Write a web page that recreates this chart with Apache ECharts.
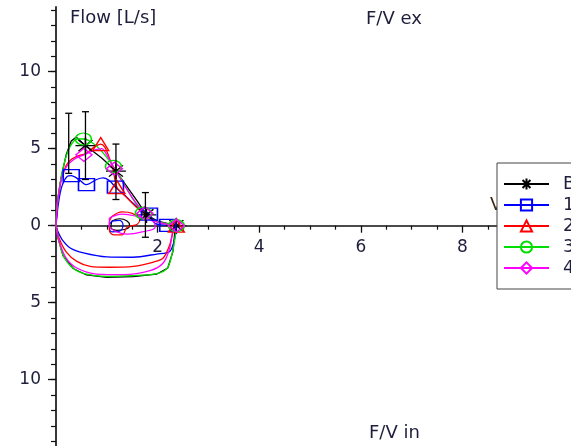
<!DOCTYPE html>
<html>
<head>
<meta charset="utf-8">
<script src="https://cdn.jsdelivr.net/npm/echarts@6/dist/echarts.min.js"></script>
<style>
  html, body { margin: 0; padding: 0; background: #ffffff; }
  #fvChart { width: 571px; height: 446px; }
</style>
</head>
<body>
<div id="fvChart"></div>
<script>
// legend names
const seriesNames = ["Baseline", "1", "2", "3", "4"];
// tick labels
const xTickLabels = [2, 4, 6, 8];
const yTickLabels = [-10, -5, 0, 5, 10];
const yMinorTicks = [-14, -13, -12, -11, -10, -9, -8, -7, -6, -5, -4, -3, -2, -1, 0,
  1, 2, 3, 4, 5, 6, 7, 8, 9, 10, 11, 12, 13, 14];

// flow-volume loops: [volume L, flow L/s]
const loopB = [[0, 0], [0.03, 1.5], [0.1, 3.1], [0.2, 4.6], [0.3, 5.5], [0.4, 5.75],
  [0.58, 5.2], [0.9, 4.4], [1.18, 3.55], [1.6, 1.6], [1.78, 0.7], [2.0, 0.3], [2.37, 0],
  [2.34, -0.4], [2.3, -1.7], [2.2, -2.75], [1.98, -3.15], [1.52, -3.3], [1.0, -3.35],
  [0.6, -3.2], [0.34, -2.78], [0.14, -1.95], [0.04, -0.8], [0, 0]];
const marksB = [6, 8, 10, 12];

const loop1 = [[0, 0], [0.05, 1.5], [0.12, 2.6], [0.22, 3.2], [0.3, 3.25], [0.45, 3.0],
  [0.6, 2.66], [0.8, 3.0], [0.93, 3.1], [1.06, 2.9], [1.17, 2.5], [1.35, 2.0], [1.5, 1.5],
  [1.65, 1.1], [1.84, 0.75], [1.95, 0.15], [2.2, 0.02], [2.37, 0], [2.34, -0.78],
  [2.24, -1.67], [1.98, -1.84], [1.52, -2.05], [1.0, -2.03], [0.54, -1.77], [0.28, -1.45],
  [0.12, -0.9], [0.04, -0.4], [0, 0]];
const marks1 = [4, 6, 10, 14, 16];

const loop2 = [[0, 0], [0.03, 1.5], [0.1, 3.0], [0.2, 3.9], [0.3, 4.3], [0.45, 4.55],
  [0.6, 4.7], [0.75, 5.1], [0.88, 5.3], [0.96, 5.1], [1.04, 4.5], [1.12, 3.7], [1.2, 2.5],
  [1.4, 1.8], [1.6, 1.15], [1.8, 0.55], [2.05, 0.18], [2.37, 0], [2.32, -0.25],
  [2.24, -1.23], [2.11, -2.1], [1.92, -2.36], [1.52, -2.64], [1.06, -2.7], [0.67, -2.64],
  [0.41, -2.32], [0.2, -1.7], [0.06, -0.8], [0, 0]];
const marks2 = [8, 12, 17];

const loop3 = [[0, 0], [0.013, 1.04], [0.08, 2.77], [0.18, 4.29], [0.28, 5.15], [0.41, 5.63],
  [0.54, 5.63], [0.67, 5.48], [0.87, 4.94], [1.13, 3.85], [1.33, 2.77], [1.52, 1.69],
  [1.72, 0.82], [1.92, 0.35], [2.18, 0.13], [2.37, 0], [2.36, -0.4], [2.3, -1.6],
  [2.2, -2.7], [2.0, -3.1], [1.5, -3.25], [1.0, -3.3], [0.6, -3.15], [0.35, -2.8],
  [0.15, -2.0], [0.05, -0.9], [0, 0]];
const marks3 = [6, 9, 12, 15];

const loop4 = [[0, 0], [0.03, 1.5], [0.1, 2.9], [0.2, 3.8], [0.35, 4.3], [0.55, 4.6],
  [0.75, 4.9], [0.9, 5.0], [1.0, 4.6], [1.15, 3.7], [1.35, 2.6], [1.55, 1.6], [1.75, 0.8],
  [1.95, 0.3], [2.2, 0.08], [2.37, 0], [2.3, -0.3], [2.24, -1.45], [2.11, -2.42],
  [1.85, -2.92], [1.33, -3.18], [0.8, -3.14], [0.41, -2.75], [0.2, -2.1], [0.06, -1.0], [0, 0]];
const marks4 = [5, 9, 12, 15];

// small tidal loops
const tidalB = [[1.1, 0.3], [1.25, 0.45], [1.4, 0.3], [1.45, 0.0], [1.35, -0.25], [1.2, -0.3],
  [1.08, -0.1], [1.1, 0.3]];
const tidal1 = [[1.1, 0.3], [1.25, 0.35], [1.32, 0.05], [1.25, -0.35], [1.1, -0.4], [1.05, 0],
  [1.1, 0.3]];
const tidal2 = [[1.1, 0.6], [1.3, 0.9], [1.5, 0.8], [1.65, 0.4], [1.6, 0.1], [1.4, -0.1],
  [1.3, -0.6], [1.15, -0.6], [1.05, -0.3], [1.05, 0.2], [1.1, 0.6]];
const tidal4 = [[1.05, 0.5], [1.3, 0.75], [1.6, 0.6], [1.9, 0.3], [1.95, -0.1], [1.7, -0.4],
  [1.4, -0.55], [1.2, -0.4], [1.05, 0.0], [1.05, 0.5]];

// baseline error bars: [volume, low, high]
const errB = [[0.25, 3.4, 7.3], [0.58, 3.0, 7.4], [1.18, 1.7, 5.3], [1.76, -0.75, 2.15]];

const txtColor = "#1e1e3c";
const fontFam = "DejaVu Sans";
const starPath = "path://M0,5L10,5M5,0L5,10M1.5,1.5L8.5,8.5M8.5,1.5L1.5,8.5";

function withMarks(pts, marks) {
  return pts.map(function (p, i) {
    return marks.indexOf(i) >= 0 ? p : { value: p, symbol: "none" };
  });
}

function loopSeries(name, color, symbol, size, pts, marks, smooth) {
  return {
    name: name,
    type: "line",
    data: withMarks(pts, marks),
    symbol: symbol,
    symbolSize: size,
    showAllSymbol: true,
    smooth: smooth,
    lineStyle: { color: color, width: 1.3 },
    itemStyle: { color: "rgba(255,255,255,0)", borderColor: color, borderWidth: 1.4 },
    emphasis: { disabled: true },
  };
}

function tidalSeries(name, color, pts) {
  return {
    name: name,
    type: "line",
    data: pts,
    symbol: "none",
    smooth: 0.4,
    lineStyle: { color: color, width: 1.2 },
    emphasis: { disabled: true },
  };
}

const titleStyle = { fontFamily: fontFam, fontSize: 18, fontWeight: "normal", color: txtColor };

let myChart = echarts.init(document.getElementById("fvChart"));
let options = {
  animation: false,
  title: [
    { text: "Flow [L/s]", left: 70, top: 9, padding: 0, textStyle: titleStyle },
    { text: "F/V ex", left: 366, top: 10, padding: 0, textStyle: titleStyle },
    { text: "F/V in", left: 369, top: 424, padding: 0, textStyle: titleStyle },
  ],
  graphic: [
    { type: "text", left: 490, top: 196, z: 0,
      style: { text: "Volume [L]", fontFamily: fontFam, fontSize: 18, fill: "#3a2a10" } },
  ],
  legend: {
    data: seriesNames,
    orient: "vertical",
    left: 497,
    top: 163,
    padding: [12, 6, 12, 6],
    itemWidth: 45,
    itemHeight: 14,
    itemGap: 3,
    backgroundColor: "#ffffff",
    borderColor: "#444444",
    borderWidth: 1,
    borderRadius: 0,
    z: 10,
    textStyle: { fontFamily: fontFam, fontSize: 18, color: txtColor, lineHeight: 14, padding: [0, 0, 0, 9] },
  },
  grid: { left: 56, top: 7, width: 508, height: 442, containLabel: false, outerBoundsMode: "none" },
  xAxis: [
    {
      type: "value",
      min: 0,
      max: 10,
      interval: 2,
      axisLine: { onZero: true, lineStyle: { color: "#111111", width: 1.5 } },
      axisTick: { length: 7, lineStyle: { color: "#111111", width: 1.3 } },
      minorTick: { show: true, splitNumber: 4, length: 4, lineStyle: { color: "#111111", width: 1.2 } },
      axisLabel: { show: false },
      splitLine: { show: false },
    },
    {
      // labels only, lifted from the grid bottom up to the zero line
      type: "value",
      min: 0,
      max: 10,
      position: "bottom",
      offset: -223.3,
      axisLine: { show: false, onZero: false },
      axisTick: { show: false },
      axisLabel: {
        customValues: xTickLabels,
        margin: 13,
        fontFamily: fontFam,
        fontSize: 17,
        color: txtColor,
      },
      splitLine: { show: false },
    },
  ],
  yAxis: [
    {
      type: "value",
      min: -14.5,
      max: 14.2,
      position: "left",
      axisLine: { onZero: true, lineStyle: { color: "#222222", width: 1.8 } },
      axisTick: { customValues: yTickLabels, length: 8, lineStyle: { color: "#111111", width: 1.3 } },
      axisLabel: {
        customValues: yTickLabels,
        margin: 15,
        fontFamily: fontFam,
        fontSize: 17,
        color: txtColor,
        formatter: function (v) { return String(Math.abs(v)); },
      },
      splitLine: { show: false },
    },
    {
      type: "value",
      min: -14.5,
      max: 14.2,
      position: "left",
      offset: 0,
      axisLine: { show: false, onZero: true },
      axisTick: { customValues: yMinorTicks, length: 5, lineStyle: { color: "#111111", width: 1.2 } },
      axisLabel: { show: false },
      splitLine: { show: false },
    },
  ],
  series: [
    loopSeries(seriesNames[0], "#000000", starPath, [20, 16], loopB, marksB, 0),
    loopSeries(seriesNames[1], "#0000ff", "rect", [16, 12], loop1, marks1, 0.3),
    loopSeries(seriesNames[2], "#ff0000", "triangle", [16, 13], loop2, marks2, 0.3),
    loopSeries(seriesNames[3], "#00dd00", "circle", [16, 12], loop3, marks3, 0.3),
    loopSeries(seriesNames[4], "#ff00ff", "diamond", [16, 13], loop4, marks4, 0.3),
    tidalSeries(seriesNames[0], "#000000", tidalB),
    tidalSeries(seriesNames[1], "#0000ff", tidal1),
    tidalSeries(seriesNames[2], "#ff0000", tidal2),
    tidalSeries(seriesNames[4], "#ff00ff", tidal4),
    {
      name: "errB",
      type: "custom",
      data: errB,
      encode: { x: 0, y: [1, 2] },
      z: 5,
      renderItem: function (params, api) {
        const x = api.value(0);
        const lo = api.coord([x, api.value(1)]);
        const hi = api.coord([x, api.value(2)]);
        const cap = 3.5;
        const st = { stroke: "#000000", lineWidth: 1.3 };
        return {
          type: "group",
          children: [
            { type: "line", shape: { x1: lo[0], y1: lo[1], x2: hi[0], y2: hi[1] }, style: st },
            { type: "line", shape: { x1: lo[0] - cap, y1: lo[1], x2: lo[0] + cap, y2: lo[1] }, style: st },
            { type: "line", shape: { x1: hi[0] - cap, y1: hi[1], x2: hi[0] + cap, y2: hi[1] }, style: st },
          ],
        };
      },
    },
  ],
};
myChart.setOption(options);
</script>
</body>
</html>
